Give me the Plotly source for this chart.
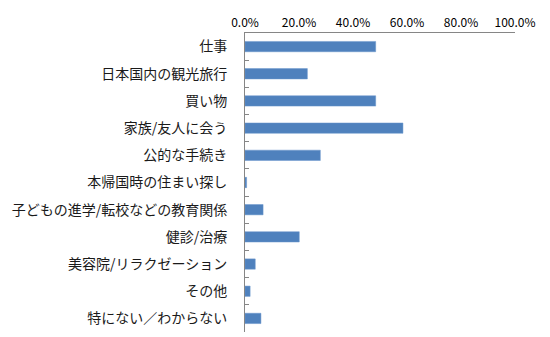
import plotly.graph_objects as go

categories = ["仕事", "日本国内の観光旅行", "買い物", "家族/友人に会う", "公的な手続き",
              "本帰国時の住まい探し", "子どもの進学/転校などの教育関係", "健診/治療",
              "美容院/リラクゼーション", "その他", "特にない／わからない"]
values = [0.484, 0.231, 0.484, 0.585, 0.279, 0.006, 0.067, 0.201, 0.038, 0.019, 0.059]
tick_vals = [0, 0.2, 0.4, 0.6, 0.8, 1.0]
tick_text = ["0.0%", "20.0%", "40.0%", "60.0%", "80.0%", "100.0%"]

font_family = "Noto Sans CJK JP"

fig = go.Figure(go.Bar(
    x=values, y=categories, orientation="h",
    marker=dict(color="#4F81BD", line=dict(color="#6A96CC", width=0.5)),
    width=0.38,
))

fig.update_layout(
    width=550, height=337,
    margin=dict(l=245, r=35, t=33, b=5),
    paper_bgcolor="white", plot_bgcolor="white",
    showlegend=False,
    font=dict(family=font_family, color="#000000"),
    xaxis=dict(
        side="top", range=[0, 1], tickvals=tick_vals, ticktext=tick_text,
        showgrid=False, zeroline=False, showline=True, linecolor="#868686",
        linewidth=1, ticks="", tickfont=dict(size=12, family=font_family),
        fixedrange=True,
    ),
    yaxis=dict(
        autorange="reversed", showgrid=False, zeroline=False,
        showline=True, linecolor="#868686", linewidth=1,
        ticks="inside", ticklen=4, tickcolor="#868686", tickson="boundaries",
        tickfont=dict(size=14, family=font_family, color="#1a1a1a"), ticklabelstandoff=14,
    ),
)

fig.write_html("out.html")
